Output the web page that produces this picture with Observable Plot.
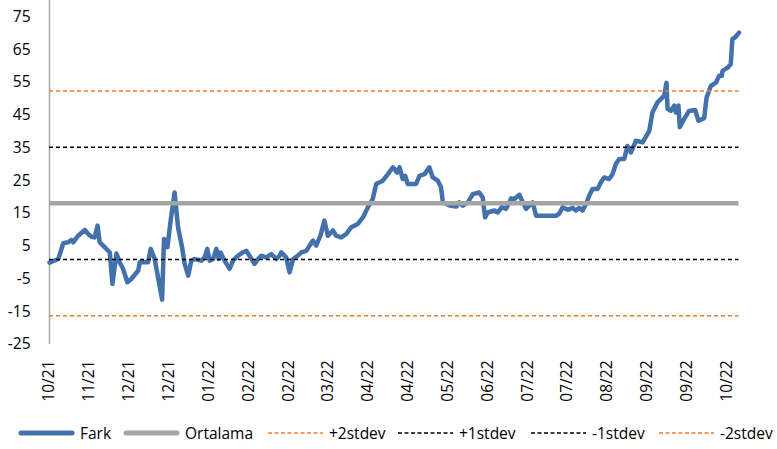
<!DOCTYPE html>
<html><head><meta charset="utf-8">
<script src="https://cdn.jsdelivr.net/npm/d3@7"></script>
<script src="https://cdn.jsdelivr.net/npm/@observablehq/plot@0.6"></script>
<style>
body{margin:0;background:#fff;font-family:"Open Sans",sans-serif;}
#wrap{position:relative;width:777px;height:449px;overflow:hidden;background:#fff;}
#legend{position:absolute;left:0;top:423px;width:777px;height:20px;white-space:nowrap;font-size:15.5px;color:#000;}
.item{position:absolute;top:0;height:20px;display:flex;align-items:center;}
.item svg{margin-right:5px;display:block;}
</style></head><body><div id="wrap"><div id="chart"></div><div id="legend"></div></div>
<script>
const days = [0,3.3,5.2,7.0,8.3,8.9,10.8,13.3,14.6,15.8,17.0,18.1,18.9,20.8,22.7,23.7,25.2,26.4,27.7,29.3,30.8,33.4,34.0,37.1,38.1,39.6,42.4,43.1,44.4,45.6,47.1,48.4,49.9,50.9,52.2,53.4,54.6,57.2,58.4,59.4,60.3,61.6,62.8,63.7,64.4,65.9,67.8,69.1,71.0,72.8,74.1,75.3,77.2,78.5,79.7,81.6,83.5,85.4,86.6,87.3,89.1,90.4,91.7,93.5,94.8,96.7,97.9,99.2,100.4,102.0,103.5,104.8,106.7,107.9,109.8,111.7,113.6,116.1,118.0,119.9,121.7,123.0,125.5,127.4,129.3,130.9,131.8,133.0,133.9,134.9,138.0,139.3,141.2,143.0,144.3,146.2,147.4,148.1,150.6,153.1,154.3,155.6,157.5,159.4,161.8,163.1,164.0,165.0,167.5,168.8,170.3,171.9,173.8,175.0,176.9,178.2,179.4,180.6,181.9,183.2,186.9,190.7,191.9,193.2,195.1,197.0,198.2,199.4,200.7,202.0,203.2,204.5,206.4,207.6,208.8,210.7,212.0,213.2,214.5,216.4,217.6,218.9,220.8,223.3,225.8,227.0,228.9,231.4,232.3,232.7,233.9,235.2,235.8,236.8,237.3,238.9,240.8,243.1,244.3,246.5,247.4,249.0,250.9,252.1,253.1,253.4,255.3,256.5,257.1,258.1,259.6];
const fark = [0,1.1,5.9,6.2,6.9,6.2,8.2,10.0,8.7,7.9,7.7,11.3,6.2,4.7,3.1,-6.5,2.8,0.1,-1.9,-6.0,-5.0,-2.4,0.1,0.1,4.2,1.1,-11.3,7.2,4.7,12.8,21.4,10.8,4.7,-0.4,-4.0,0.6,1.1,0.6,1.6,4.2,0.6,1.1,4.2,1.1,3.1,0.6,-1.9,0.6,2.1,3.1,3.6,2.1,-0.4,1.1,2.1,1.6,2.6,1.1,2.1,3.1,1.6,-3.0,1.1,2.1,3.1,3.6,5.2,6.7,5.2,8.2,12.8,8.2,9.8,8.2,7.7,8.7,10.8,11.8,13.8,16.9,19.4,24.0,25.0,27.0,29.1,27.5,29.1,25.5,26.5,24.0,24.0,26.5,27.0,29.1,26.0,25.0,23.0,18.4,17.4,17.1,18.4,17.4,18.4,20.9,21.4,19.9,13.8,15.3,15.9,15.3,16.9,16.4,19.6,19.4,20.7,18.4,16.4,17.4,18.4,14.3,14.3,14.3,14.9,16.9,16.1,16.7,15.9,16.7,15.9,17.9,20.4,22.5,22.5,24.5,26.0,25.5,27.0,30.0,31.6,31.6,35.6,33.6,37.2,36.7,40.2,45.8,48.9,50.9,54.9,46.9,46.3,47.9,45.8,47.9,41.3,43.8,46.3,46.6,43.3,44.1,50.4,53.9,54.9,57.0,57.0,58.5,59.5,60.6,68.2,68.7,70.2];
const tickLabels = ["10/21","11/21","12/21","12/21","01/22","02/22","02/22","03/22","04/22","04/22","05/22","06/22","07/22","07/22","08/22","09/22","09/22","10/22"];
const labelStep = 15;
const yTicks = [-25,-15,-5,5,15,25,35,45,55,65,75];
const levelNames = ["Ortalama","+2stdev","+1stdev","-1stdev","-2stdev"];
const levelValues = [18.1,52.4,35.2,0.95,-16.2];
const seriesNames = ["Fark", ...levelNames];
const seriesColors = ["#4371ab","#a5a5a5","#ed7d31","#000000","#000000","#ed7d31"];

const farkData = days.map((d, i) => ({day: d, value: fark[i]}));
const levels = levelNames.map((n, i) => ({name: n, value: levelValues[i], color: seriesColors[i + 1], dashed: i > 0}));

const chart = Plot.plot({
  width: 777,
  height: 412,
  marginLeft: 49,
  marginRight: 38.5,
  marginTop: 0,
  marginBottom: 68,
  style: {fontFamily: "'Open Sans', sans-serif", fontSize: "15.5px", color: "#000", background: "#fff"},
  x: {domain: [0, 259.6], axis: null},
  y: {domain: [-25, 80], axis: null},
  marks: [
    Plot.axisY({ticks: yTicks, tickSize: 0, tickPadding: 19, label: null, tickFormat: d => String(d), fontSize: 15.5}),
    Plot.axisX({ticks: tickLabels.map((_, i) => i * labelStep), tickFormat: d => tickLabels[Math.round(d / labelStep)], tickSize: 0, tickPadding: 16, tickRotate: -90, label: null, fontSize: 15.5}),
    Plot.ruleX([0], {stroke: "#a6a6a6", strokeWidth: 1.5}),
    Plot.line(farkData, {x: "day", y: "value", stroke: seriesColors[0], strokeWidth: 4.5, strokeLinejoin: "round", strokeLinecap: "round"}),
    Plot.ruleY(levels.filter(d => !d.dashed), {y: "value", stroke: d => d.color, strokeWidth: 4.5}),
    Plot.ruleY(levels.filter(d => d.dashed), {y: "value", stroke: d => d.color, strokeWidth: 1.5, strokeDasharray: "4,3"})
  ]
});
document.getElementById("chart").appendChild(chart);

const legendLeft = [18, 123, 267, 397, 530, 658];
const legend = document.getElementById("legend");
seriesNames.forEach((name, i) => {
  const item = document.createElement("div");
  item.className = "item";
  item.style.left = legendLeft[i] + "px";
  const dashed = i >= 2;
  const sw = dashed
    ? `<svg width="57" height="10"><line x1="1" y1="5" x2="56" y2="5" stroke="${seriesColors[i]}" stroke-width="1.5" stroke-dasharray="4,2.5"/></svg>`
    : `<svg width="57" height="10"><line x1="3" y1="5" x2="54" y2="5" stroke="${seriesColors[i]}" stroke-width="5" stroke-linecap="round"/></svg>`;
  item.innerHTML = sw + `<span>${name}</span>`;
  legend.appendChild(item);
});
</script>
</body></html>
